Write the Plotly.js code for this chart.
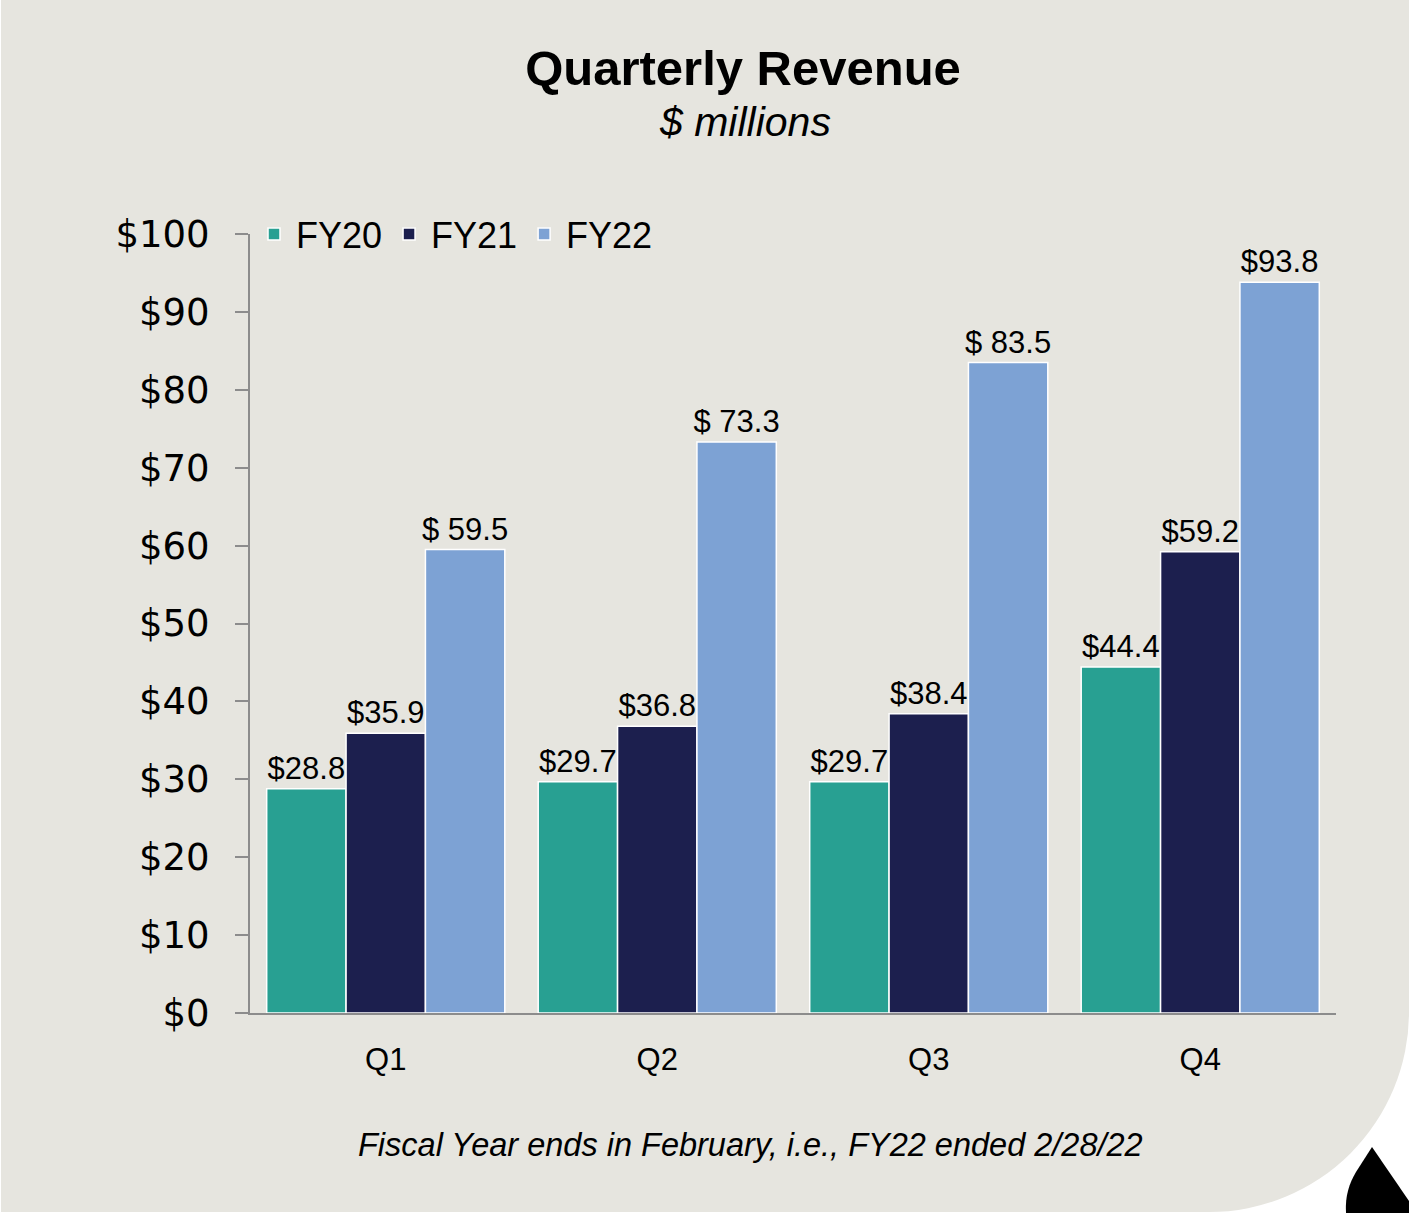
<!DOCTYPE html>
<html>
<head>
<meta charset="utf-8">
<script src="https://cdn.plot.ly/plotly-3.0.1.min.js"></script>
<style>
  html, body { margin: 0; padding: 0; background: #ffffff; }
  #bg { position: absolute; left: 1px; top: 0; width: 1408px; height: 1212px;
        background: #E6E5DF; border-bottom-right-radius: 200px; }
  #chart { position: absolute; left: 0; top: 0; width: 1409px; height: 1213px; }
  #logo { position: absolute; left: 0; top: 0; }
</style>
</head>
<body>
<div id="bg"></div>
<svg id="logo" width="1409" height="1213">
  <path d="M1372,1147 L1409,1201 L1409,1213 L1346,1213 C1345,1196 1349,1184 1356,1172 Z" fill="#000"/>
</svg>
<div id="chart"></div>
<script>
const quarters = ["Q1", "Q2", "Q3", "Q4"];
const seriesNames = ["FY20", "FY21", "FY22"];
const fy20 = [28.8, 29.7, 29.7, 44.4];
const fy21 = [35.9, 36.8, 38.4, 59.2];
const fy22 = [59.5, 73.3, 83.5, 93.8];
const fy20Labels = ["$28.8", "$29.7", "$29.7", "$44.4"];
const fy21Labels = ["$35.9", "$36.8", "$38.4", "$59.2"];
const fy22Labels = ["$ 59.5", "$ 73.3", "$ 83.5", "$93.8"];
const yTickVals = [0, 10, 20, 30, 40, 50, 60, 70, 80, 90, 100];
const yTickText = ["$0", "$10", "$20", "$30", "$40", "$50", "$60", "$70", "$80", "$90", "$100"];
const colors = ["#28A092", "#1C1F4E", "#7DA2D4"];

const values = [fy20, fy21, fy22];
const labels = [fy20Labels, fy21Labels, fy22Labels];

const traces = values.map((v, i) => ({
  type: "bar",
  name: seriesNames[i],
  x: quarters,
  y: v,
  text: labels[i],
  textposition: "outside",
  constraintext: "none",
  cliponaxis: false,
  textfont: { family: "Liberation Sans, Arial, sans-serif", size: 31, color: "#000" },
  marker: { color: colors[i], line: { color: "#FFFFFF", width: 1.5 } },
  hoverinfo: "skip"
}));

const layout = {
  width: 1409,
  height: 1213,
  paper_bgcolor: "rgba(0,0,0,0)",
  plot_bgcolor: "rgba(0,0,0,0)",
  margin: { l: 250, r: 73, t: 234, b: 200 },
  barmode: "group",
  bargap: 0.123,
  bargroupgap: 0,
  showlegend: true,
  legend: {
    orientation: "h",
    x: 2 / 1086, xanchor: "left",
    y: 1.0, yanchor: "middle",
    itemwidth: 34,
    bgcolor: "rgba(0,0,0,0)",
    font: { family: "Liberation Sans, Arial, sans-serif", size: 36, color: "#000" },
    traceorder: "normal"
  },
  title: {
    text: "<b>Quarterly Revenue</b>",
    font: { family: "Liberation Sans, Arial, sans-serif", size: 49, color: "#000" },
    x: 743 / 1409, xanchor: "center", xref: "container",
    y: 1 - 68 / 1213, yanchor: "middle", yref: "container"
  },
  xaxis: {
    type: "category",
    showgrid: false,
    zeroline: false,
    showline: true,
    linecolor: "#8C8C8C",
    linewidth: 2,
    ticks: "",
    ticklabelstandoff: 18,
    tickfont: { family: "Liberation Sans, Arial, sans-serif", size: 31, color: "#000" }
  },
  yaxis: {
    range: [0, 100],
    tickvals: yTickVals,
    ticktext: yTickText,
    showgrid: false,
    zeroline: false,
    showline: true,
    linecolor: "#8C8C8C",
    linewidth: 2,
    ticks: "outside",
    ticklen: 13,
    tickwidth: 2,
    tickcolor: "#8C8C8C",
    ticklabelstandoff: 18,
    tickfont: { family: "DejaVu Sans, sans-serif", size: 37, color: "#000" }
  },
  annotations: [
    {
      text: "<i>$ millions</i>",
      xref: "paper", yref: "paper",
      x: (745 - 250) / 1086, y: (1013 - 122) / 779,
      xanchor: "center", yanchor: "middle",
      showarrow: false,
      font: { family: "Liberation Sans, Arial, sans-serif", size: 41, color: "#000" }
    },
    {
      text: "<i>Fiscal Year ends in February, i.e., FY22 ended 2/28/22</i>",
      xref: "paper", yref: "paper",
      x: (750 - 250) / 1086, y: -(1145 - 1013) / 779,
      xanchor: "center", yanchor: "middle",
      showarrow: false,
      font: { family: "Liberation Sans, Arial, sans-serif", size: 32.5, color: "#000" }
    }
  ]
};

Plotly.newPlot("chart", traces, layout, { displayModeBar: false, staticPlot: true });
</script>
</body>
</html>
